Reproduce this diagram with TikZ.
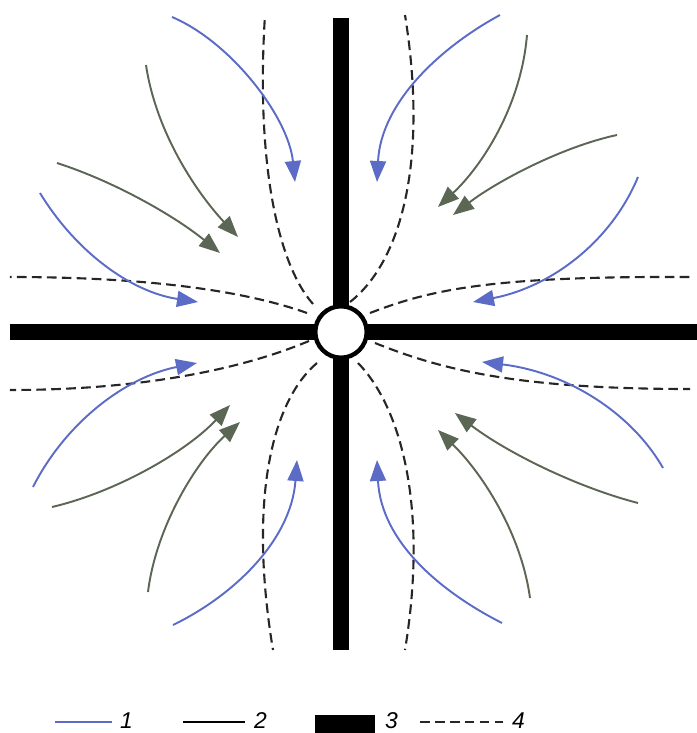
\documentclass[tikz,border=0pt]{standalone}
\usepackage{fontspec}
\setsansfont{Liberation Sans}
\usepackage{tikz}
\usetikzlibrary{arrows.meta}
\definecolor{flowblue}{RGB}{92,108,198}
\definecolor{flowolive}{RGB}{92,102,84}

\begin{document}
\begin{tikzpicture}[
    wall/.style={line width=9.5pt},
    seam/.style={line width=1.2pt, dash pattern=on 5.5pt off 3pt, black!85},
    blueflow/.style={flowblue, line width=1.1pt, -{Triangle[length=0.42cm,width=0.32cm]}},
    oliveflow/.style={flowolive, line width=1.1pt, -{Triangle[length=0.42cm,width=0.32cm]}},
    keynum/.style={font=\sffamily\itshape\fontsize{13}{15}\selectfont, inner sep=1pt, anchor=base west}
  ]
  \useasboundingbox (-6.82,-8.02) rectangle (7.12,6.64);
  % Walls
  \draw[wall] (-6.62,0) -- (7.12,0);                    % horizontal
  \draw[wall] (0,6.28) -- (0,-6.36);                    % vertical
  \node[circle, draw, fill=white, line width=2.5pt, minimum size=1.03cm, inner sep=0pt] (hub) at (0,0) {};
  % Dashed lines out of the hub
  \draw[seam] (-0.56,0.56) .. controls (-1.3,1.4) and (-1.7,3.5) .. (-1.52,6.34);     % top left
  \draw[seam] (0.18,0.6) .. controls (1.2,1.4) and (1.75,3.4) .. (1.28,6.34);         % top right
  \draw[seam] (-0.68,0.38) .. controls (-2.0,0.85) and (-4.0,1.1) .. (-6.62,1.1);     % left upper
  \draw[seam] (-0.64,-0.18) .. controls (-2.0,-0.75) and (-4.0,-1.16) .. (-6.62,-1.16); % left lower
  \draw[seam] (0.58,0.38) .. controls (1.8,0.85) and (3.0,1.12) .. (6.98,1.1);        % right upper
  \draw[seam] (0.68,-0.22) .. controls (2.0,-0.75) and (3.5,-1.14) .. (6.98,-1.14);   % right lower
  \draw[seam] (-0.48,-0.62) .. controls (-1.4,-1.4) and (-1.85,-3.4) .. (-1.36,-6.36); % bottom left
  \draw[seam] (0.34,-0.62) .. controls (1.2,-1.5) and (1.75,-3.5) .. (1.28,-6.36);    % bottom right
  % Top left quadrant
  \draw[blueflow] (-3.38,6.3) .. controls (-2.2,5.8) and (-1.05,4.3) .. (-0.92,3.0);
  \draw[oliveflow] (-3.9,5.34) .. controls (-3.7,4.0) and (-2.9,2.8) .. (-2.06,1.9);
  \draw[oliveflow] (-5.68,3.38) .. controls (-4.5,3.0) and (-3.3,2.3) .. (-2.42,1.58);
  \draw[blueflow] (-6.02,2.78) .. controls (-5.3,1.6) and (-4.2,0.8) .. (-2.86,0.6);
  % Top right quadrant
  \draw[blueflow] (3.18,6.34) .. controls (2.0,5.7) and (0.8,4.6) .. (0.72,3.0);
  \draw[oliveflow] (3.72,5.94) .. controls (3.6,4.5) and (2.8,3.3) .. (1.94,2.5);
  \draw[oliveflow] (5.52,3.94) .. controls (4.4,3.7) and (3.1,3.0) .. (2.24,2.34);
  \draw[blueflow] (5.94,3.1) .. controls (5.4,1.8) and (4.2,0.9) .. (2.64,0.6);
  % Bottom left quadrant
  \draw[blueflow] (-6.16,-3.1) .. controls (-5.5,-1.8) and (-4.3,-0.9) .. (-2.88,-0.62);
  \draw[oliveflow] (-5.78,-3.5) .. controls (-4.5,-3.2) and (-3.1,-2.4) .. (-2.22,-1.46);
  \draw[oliveflow] (-3.86,-5.2) .. controls (-3.7,-3.9) and (-2.9,-2.6) .. (-2.02,-1.8);
  \draw[blueflow] (-3.36,-5.86) .. controls (-2.2,-5.3) and (-1.0,-4.2) .. (-0.88,-2.56);
  % Bottom right quadrant
  \draw[blueflow] (6.44,-2.72) .. controls (5.8,-1.6) and (4.5,-0.8) .. (2.82,-0.6);
  \draw[oliveflow] (5.94,-3.42) .. controls (4.7,-3.1) and (3.3,-2.4) .. (2.28,-1.62);
  \draw[oliveflow] (3.78,-5.32) .. controls (3.6,-4.0) and (2.8,-2.8) .. (1.94,-1.96);
  \draw[blueflow] (3.22,-5.82) .. controls (2.0,-5.2) and (0.8,-4.2) .. (0.72,-2.56);
  % Legend
  \node[keynum] (key1) at (-4.46,-7.93) {1};
  \node[keynum] (key2) at (-1.78,-7.93) {2};
  \node[keynum] (key3) at (0.84,-7.93) {3};
  \node[keynum] (key4) at (3.38,-7.93) {4};
  \draw[flowblue, line width=1.1pt] (-5.72,-7.8) -- (-4.58,-7.8);
  \draw[line width=1.1pt] (-3.16,-7.8) -- (-1.92,-7.8);
  \fill (-0.52,-7.66) rectangle (0.68,-8.1);
  \draw[seam] (1.58,-7.8) -- (3.24,-7.8);
\end{tikzpicture}
\end{document}
